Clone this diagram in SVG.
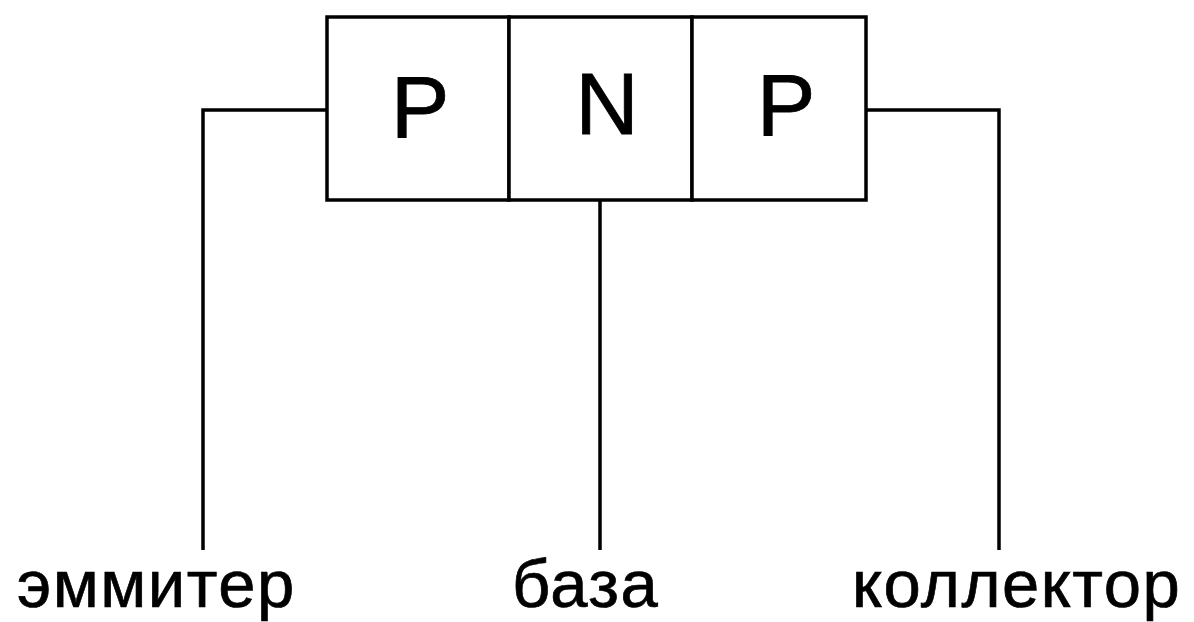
<svg xmlns="http://www.w3.org/2000/svg" width="1194" height="622" viewBox="0 0 1194 622">
  <style>
    .cell { fill: #fff; stroke: #000; stroke-width: 3.5; }
    .wire { fill: none; stroke: #000; stroke-width: 3.5; }
    .layer { font-family: "Liberation Sans", Arial, sans-serif; font-size: 88px; fill: #000; stroke: #000; stroke-width: 0.8; text-anchor: middle; }
    .pin { font-family: "Liberation Sans", Arial, sans-serif; font-size: 67px; letter-spacing: 1.5px; fill: #000; stroke: #000; stroke-width: 0.7; }
  </style>
  <rect width="1194" height="622" fill="#fff"/>
  <g id="connectors">
    <polyline class="wire" points="327,110 203,110 203,550"/>
    <polyline class="wire" points="600,200 600,550"/>
    <polyline class="wire" points="866,110 999,110 999,550"/>
  </g>
  <g id="emitter-region">
    <rect class="cell" x="327" y="17" width="182" height="183"/>
    <text class="layer" x="420" y="137">P</text>
  </g>
  <g id="base-region">
    <rect class="cell" x="509" y="17" width="183" height="183"/>
    <text class="layer" x="607" y="134">N</text>
  </g>
  <g id="collector-region">
    <rect class="cell" x="692" y="17" width="174" height="183"/>
    <text class="layer" x="786" y="135">P</text>
  </g>
  <g id="labels">
    <text id="label-emitter" class="pin" x="17" y="607">эммитер</text>
    <text id="label-base" class="pin" x="512" y="607">база</text>
    <text id="label-collector" class="pin" x="852" y="607">коллектор</text>
  </g>
</svg>
